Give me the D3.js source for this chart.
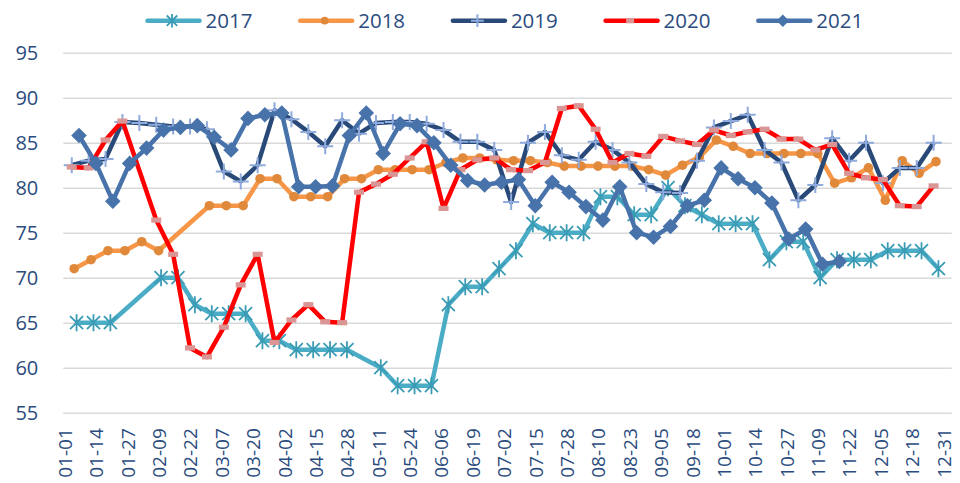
<!DOCTYPE html>
<html>
<head>
<meta charset="utf-8">
<script src="https://cdn.jsdelivr.net/npm/d3@7"></script>
<style>
  body { margin: 0; background: #fff; }
  text { font-family: "Open Sans", sans-serif; fill: #2B4C7E; }
</style>
</head>
<body>
<div id="chart"></div>
<script>
// tick labels of the date axis (every 13 days)
const tickLabels = ["01-01","01-14","01-27","02-09","02-22","03-07","03-20","04-02","04-15","04-28",
  "05-11","05-24","06-06","06-19","07-02","07-15","07-28","08-10","08-23","09-05","09-18",
  "10-01","10-14","10-27","11-09","11-22","12-05","12-18","12-31"];
const yTicks = [55, 60, 65, 70, 75, 80, 85, 90, 95];

// series: weekly readings, first reading date per year (null = no reading that week)
const seriesNames = ["2017", "2018", "2019", "2020", "2021"];
const startDates = ["01-06", "01-05", "01-04", "01-04", "01-07"];

const v2017 = [65,65,65,null,null,70,70,67,66,66,66,63,63,62,62,62,62,null,60,58,58,58,67,69,69,
  71,73,76,75,75,75,79,79,77,77,80,78,77,76,76,76,72,74,74,70,72,72,72,73,73,73,71];
const v2018 = [71,72,73,73,74,73,null,null,78,78,78,81,81,79,79,79,81,81,82,82,82,82,82.8,83.3,83.3,
  83.1,83,83,82.8,82.4,82.4,82.4,82.4,82.4,82,81.4,82.5,83.4,85.3,84.6,83.8,83.8,83.8,83.8,83.8,
  80.5,81.1,82.2,78.6,83,81.6,82.9];
const v2019 = [82.5,83,83.2,87.3,87.2,87,86.8,86.8,86.5,81.8,80.7,82.5,88.6,87.6,86.2,84.6,87.5,86,
  87.2,87.3,87.3,87.1,86.4,85.1,85.1,84.2,78.4,85,86.2,83.6,83.1,85.1,84.2,82.8,80.4,79.5,79.4,83,
  86.7,87.4,88.1,84.2,82.8,78.6,80.3,85.5,83,85,80.5,82.2,82.2,85];
const v2020 = [82.3,82.2,85.3,87.4,null,76.4,72.6,62.2,61.2,64.5,69.2,72.6,62.8,65.3,67,65.1,65,79.5,
  80.4,81.5,83.3,85.1,77.7,82,83.1,83.3,82,81.9,82.8,88.8,89.1,86.5,82.8,83.8,83.5,85.7,85.2,84.8,
  86.4,85.8,86.2,86.5,85.4,85.4,84.2,84.8,81.6,81.1,80.9,78,77.9,80.2];
const v2021 = [85.8,82.7,78.5,82.7,84.4,86.4,86.7,86.9,85.6,84.2,87.7,88.1,88.3,80.1,80.1,80.2,85.8,
  88.3,83.8,87.1,86.9,85,82.5,80.8,80.3,80.6,80.9,78,80.6,79.5,77.9,76.4,80.1,75,74.5,75.7,78,78.6,
  82.2,81,80,78.3,74.3,75.4,71.5,71.8];

const allValues = [v2017, v2018, v2019, v2020, v2021];
const lineColors = ["#4BACC6", "#F79646", "#294A78", "#FF0000", "#4772AA"];

const width = 960, height = 483;
const plot = {left: 63.3, right: 951.7, top: 52.7, bottom: 412.7};

const svg = d3.select("#chart").append("svg")
    .attr("width", width)
    .attr("height", height);

const parse = d3.utcParse("%Y-%m-%d");
const day0 = parse("2017-01-01");
const mid = d => d3.utcHour.offset(d, 12);

const x = d3.scaleUtc()
  .domain([day0, d3.utcDay.offset(day0, 368)])
  .range([plot.left, plot.right]);
const y = d3.scaleLinear()
  .domain([55, 95])
  .range([plot.bottom, plot.top]);

// gridlines + y labels
const yAxis = svg.append("g")
  .attr("transform", `translate(${plot.left},0)`)
  .call(d3.axisLeft(y).tickValues(yTicks).tickSize(-(plot.right - plot.left)).tickPadding(25));
yAxis.select(".domain").remove();
yAxis.selectAll("line").attr("stroke", "#D9D9D9").attr("stroke-width", 1.5);
yAxis.selectAll("text").style("font-size", "20px").attr("fill", "#2B4C7E");

// x labels
const tickDates = tickLabels.map(t => mid(parse("2017-" + t)));
const xAxis = svg.append("g")
  .attr("transform", `translate(0,${plot.bottom})`)
  .call(d3.axisBottom(x).tickValues(tickDates).tickSize(0).tickFormat((d, i) => tickLabels[i]));
xAxis.select(".domain").remove();
xAxis.selectAll("text")
  .attr("transform", "rotate(-90)")
  .attr("x", -15.5)
  .attr("y", 0)
  .attr("dy", "0.36em")
  .attr("text-anchor", "end")
  .attr("fill", "#2B4C7E")
  .style("font-size", "19px");

// marker shapes per series
function drawMarker(g, k, s) {
  if (k === 0) {
    const a = 6.5 * s, b = 8.5 * s;
    g.append("path").attr("d", `M${-a},${-a}L${a},${a}M${-a},${a}L${a},${-a}M0,${-b}L0,${b}`)
      .attr("stroke", "#3A9BB4").attr("stroke-width", 1.8).attr("fill", "none");
  } else if (k === 1) {
    g.append("circle").attr("r", 4.8 * s).attr("fill", "#E0893B");
  } else if (k === 2) {
    const a = 8 * s;
    g.append("path").attr("d", `M${-a},0H${a}M0,${-a}V${a}`)
      .attr("stroke", "#8FAADC").attr("stroke-width", 2).attr("fill", "none");
  } else if (k === 3) {
    g.append("rect").attr("x", -5 * s).attr("y", -2.6).attr("width", 10 * s).attr("height", 5.2)
      .attr("fill", "#D99694");
  } else {
    const a = 7.8 * s;
    g.append("path").attr("d", `M0,${-a}L${a},0L0,${a}L${-a},0Z`).attr("fill", "#4772AA");
  }
}

const line = d3.line()
  .x(d => x(d.date))
  .y(d => y(d.value));

allValues.forEach((vals, k) => {
  const start = parse("2017-" + startDates[k]);
  const pts = vals.map((v, i) => ({ date: mid(d3.utcDay.offset(start, 7 * i)), value: v }))
    .filter(d => d.value != null);
  const g = svg.append("g");
  g.append("path")
    .datum(pts)
    .attr("fill", "none")
    .attr("stroke", lineColors[k])
    .attr("stroke-width", 4.5)
    .attr("stroke-linejoin", "round")
    .attr("d", line);
  g.selectAll("g.m")
    .data(pts)
    .join("g")
      .attr("class", "m")
      .attr("transform", d => `translate(${x(d.date)},${y(d.value)})`)
      .each(function () { drawMarker(d3.select(this), k, 1); });
});

// legend
const legend = svg.append("g");
seriesNames.forEach((name, k) => {
  const gx = 147.5 + 152.7 * k;
  const item = legend.append("g").attr("transform", `translate(${gx},20.7)`);
  item.append("line")
    .attr("x1", 0).attr("x2", 52)
    .attr("stroke", lineColors[k]).attr("stroke-width", 4.5).attr("stroke-linecap", "round");
  drawMarker(item.append("g").attr("transform", "translate(24.5,0)"), k, 0.8);
  item.append("text")
    .attr("x", 58)
    .attr("y", 7.2)
    .style("font-size", "20.5px")
    .text(name);
});
</script>
</body>
</html>
